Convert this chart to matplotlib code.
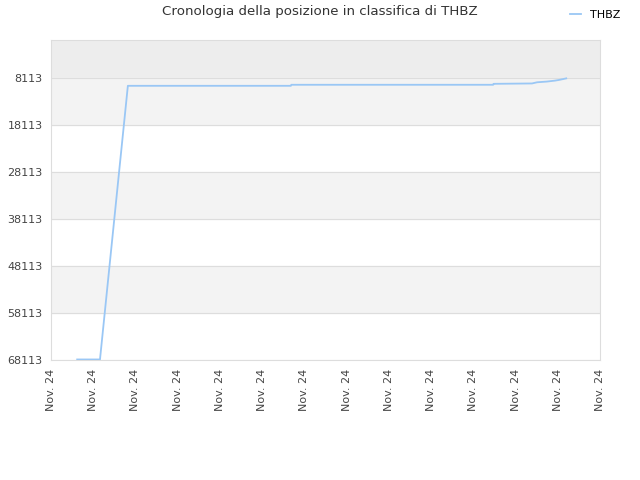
import matplotlib

matplotlib.use("Agg")
import matplotlib.pyplot as plt

# x positions in tick units (0..13), ranks
days = [0.62, 1.16, 1.82, 5.68, 5.69, 10.47, 10.48, 11.39, 11.51, 11.74, 11.93, 12.03, 12.12, 12.20]
ranks = [68000, 68000, 9750, 9750, 9530, 9530, 9330, 9250, 9000, 8850, 8650, 8500, 8330, 8170]
tick_labels = ["Nov. 24"] * 14
y_ticks = [8113, 18113, 28113, 38113, 48113, 58113, 68113]

fig = plt.figure(figsize=(6.4, 4.8), dpi=100)
ax = fig.add_axes([51 / 640, 1 - 360 / 480, 549 / 640, 320 / 480])

# background bands
ax.axhspan(0, 8113, color="#ededed", zorder=0)
for i, lo in enumerate(y_ticks[:-1]):
    if i % 2 == 0:
        ax.axhspan(lo, lo + 10000, color="#f3f3f3", zorder=0)
for y in y_ticks:
    ax.axhline(y, color="#dddddd", lw=0.8, zorder=1)

ax.plot(days, ranks, color="#9ac7f5", lw=1.3, label="THBZ", zorder=3)

ax.set_xlim(0, 13)
ax.set_ylim(68113, 0)
ax.set_xticks(range(len(tick_labels)))
ax.set_xticklabels(tick_labels, rotation=90, fontsize=8, color="#444444")
ax.set_yticks(y_ticks)
ax.set_yticklabels([str(v) for v in y_ticks], fontsize=8, color="#444444")
ax.tick_params(length=0, pad=6)
for s in ax.spines.values():
    s.set_color("#dddddd")

fig.text(0.5, 1 - 12 / 480, "Cronologia della posizione in classifica di THBZ",
         ha="center", va="center", fontsize=9.6, color="#333333")
fig.legend(loc="upper right", bbox_to_anchor=(0.985, 1.0), frameon=False,
           fontsize=8, handlelength=1.0, handletextpad=0.8)

fig.savefig("out.png")
